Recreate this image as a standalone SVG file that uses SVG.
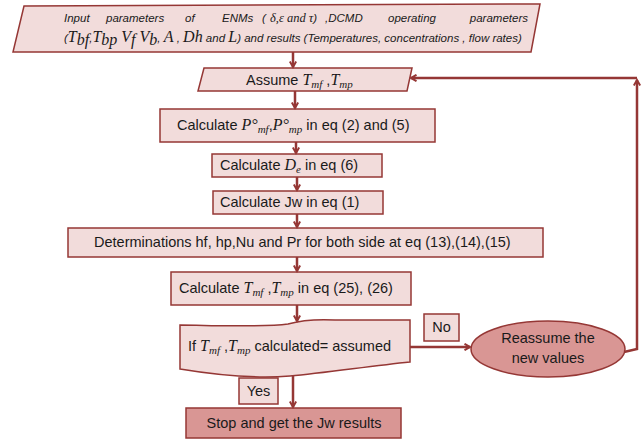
<svg xmlns="http://www.w3.org/2000/svg" width="642" height="441" viewBox="0 0 642 441">
<style>
.box{fill:#f2dcdb;stroke:#953735;stroke-width:1.5}
.dark{fill:#d99694;stroke:#953735;stroke-width:1.5}
.t{font-family:"Liberation Sans",Arial,sans-serif;font-size:14.5px;fill:#1a1a1a}
.ti{font-family:"Liberation Sans",Arial,sans-serif;font-size:11.5px;font-style:italic;fill:#1a1a1a}
.m{font-family:"Liberation Serif","DejaVu Serif",serif;font-style:italic;font-size:16px}
.s{font-size:11px}
.con{fill:none;stroke:#953735;stroke-width:2.5}
</style>
<defs>
<marker id="ah" markerWidth="8" markerHeight="8" refX="6" refY="4" orient="auto" markerUnits="userSpaceOnUse" viewBox="0 0 8 8">
<path d="M0.5,0.8 L6,4 L0.5,7.2" fill="none" stroke="#953735" stroke-width="2"/>
</marker>
</defs>
<rect width="642" height="441" fill="#ffffff"/>

<g id="input">
<polygon class="box" points="24,6 540,4 531,52 13,52"/>
<text class="ti" x="64" y="22">Input</text>
<text class="ti" x="106" y="22">parameters</text>
<text class="ti" x="185" y="22">of</text>
<text class="ti" x="222" y="22">ENMs</text>
<text class="ti" x="262" y="22">(</text>
<text class="ti" x="270" y="22"><tspan font-family="Liberation Serif" font-size="12.5">δ,ε and τ</tspan>)</text>
<text class="ti" x="325" y="22">,DCMD</text>
<text class="ti" x="388" y="22">operating</text>
<text class="ti" x="528" y="22" text-anchor="end">parameters</text>
<text class="ti" x="64" y="42" font-size="11.3">(<tspan class="m" font-size="13">T</tspan><tspan class="m" font-size="9" dy="3">bf</tspan><tspan dy="-3">,</tspan><tspan class="m" font-size="13">T</tspan><tspan class="m" font-size="9" dy="3">bp</tspan><tspan class="m" font-size="13" dy="-3"> V</tspan><tspan class="m" font-size="9" dy="3">f</tspan><tspan class="m" font-size="13" dy="-3"> V</tspan><tspan class="m" font-size="9" dy="3">b</tspan><tspan dy="-3">, </tspan><tspan class="m" font-size="13">A</tspan> , <tspan class="m" font-size="13">Dh</tspan> and <tspan class="m" font-size="13">L</tspan>) and results (Temperatures, concentrations , flow rates)</text>
</g>

<g id="assume">
<polygon class="box" points="204,68 412,68 407,91 198,91"/>
<text class="t" x="246" y="85">Assume <tspan class="m">T</tspan><tspan class="m s" dy="3">mf</tspan><tspan dy="-3"> ,</tspan><tspan class="m">T</tspan><tspan class="m s" dy="3">mp</tspan></text>
</g>

<g id="calcP">
<rect class="box" x="160" y="109" width="275" height="33"/>
<text class="t" x="177" y="130">Calculate <tspan class="m">P°</tspan><tspan class="m s" dy="3">mf</tspan><tspan dy="-3">,</tspan><tspan class="m">P°</tspan><tspan class="m s" dy="3">mp</tspan><tspan dy="-3"> in eq (2) and (5)</tspan></text>
</g>

<g id="calcDe">
<rect class="box" x="212" y="154" width="170" height="23"/>
<text class="t" x="220" y="170">Calculate <tspan class="m">D</tspan><tspan class="m s" dy="3">e</tspan><tspan dy="-3"> in eq (6)</tspan></text>
</g>

<g id="calcJw">
<rect class="box" x="213" y="191" width="170" height="23"/>
<text class="t" x="220" y="207">Calculate Jw in eq (1)</text>
</g>

<g id="determ">
<rect class="box" x="68" y="228" width="475" height="29"/>
<text class="t" x="94" y="247">Determinations hf, hp,Nu and Pr for both side at eq (13),(14),(15)</text>
</g>

<g id="calcT">
<rect class="box" x="171" y="272" width="240" height="33"/>
<text class="t" x="179" y="293">Calculate <tspan class="m">T</tspan><tspan class="m s" dy="3">mf</tspan><tspan dy="-3"> ,</tspan><tspan class="m">T</tspan><tspan class="m s" dy="3">mp</tspan><tspan dy="-3"> in eq (25), (26)</tspan></text>
</g>

<g id="decision">
<path class="box" d="M180,325 C220,326 265,327 288,324 C302,320 315,319 335,320 L410,320 L410,362 C370,366 325,373 290,376 C250,379 210,374 180,369 Z"/>
<text class="t" x="188" y="351">If <tspan class="m">T</tspan><tspan class="m s" dy="3">mf</tspan><tspan dy="-3"> ,</tspan><tspan class="m">T</tspan><tspan class="m s" dy="3">mp</tspan><tspan dy="-3"> calculated= assumed</tspan></text>
</g>

<g id="no">
<rect class="box" x="424" y="314" width="35" height="27"/>
<text class="t" x="441.5" y="332" text-anchor="middle">No</text>
</g>

<g id="yes">
<rect class="box" x="239" y="378" width="39" height="26"/>
<text class="t" x="258.5" y="396" text-anchor="middle">Yes</text>
</g>

<g id="reassume">
<ellipse class="dark" cx="548" cy="349" rx="77" ry="28"/>
<text class="t" x="548" y="343" text-anchor="middle">Reassume the</text>
<text class="t" x="548" y="363" text-anchor="middle">new values</text>
</g>

<g id="stop">
<rect class="dark" x="186" y="408" width="215" height="30"/>
<text class="t" x="294" y="428" text-anchor="middle">Stop and get the Jw results</text>
</g>

<g id="connectors">
<path class="con" d="M293,52 V67" marker-end="url(#ah)"/>
<path class="con" d="M295,91 V108" marker-end="url(#ah)"/>
<path class="con" d="M296,142 V153" marker-end="url(#ah)"/>
<path class="con" d="M297,177 V190" marker-end="url(#ah)"/>
<path class="con" d="M297,214 V227" marker-end="url(#ah)"/>
<path class="con" d="M297,257 V271" marker-end="url(#ah)"/>
<path class="con" d="M297,305 V321" marker-end="url(#ah)"/>
<path class="con" d="M293,375 V407" marker-end="url(#ah)"/>
<path class="con" d="M410,347 H470" marker-end="url(#ah)"/>
<path class="con" d="M624,352 L637,349 V80" marker-end="url(#ah)"/>
<path class="con" d="M637,78 H411" marker-end="url(#ah)"/>
</g>
</svg>
